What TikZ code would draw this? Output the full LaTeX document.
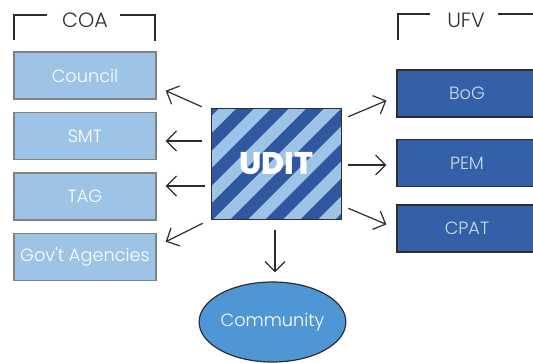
\documentclass[tikz,border=0pt]{standalone}
\usepackage{fontspec}
\setmainfont{Poppins}
\newfontfamily\labelfont{Poppins Light}
\newfontfamily\heavyfont{Poppins ExtraBold}
\usetikzlibrary{arrows.meta,shapes.geometric}

\definecolor{paleblue}{RGB}{157,195,230}
\definecolor{deepblue}{RGB}{52,96,168}
\definecolor{stripeblue}{RGB}{47,88,160}
\definecolor{midblue}{RGB}{78,150,212}
\definecolor{boxline}{RGB}{130,130,130}
\definecolor{inkline}{RGB}{45,45,45}
\definecolor{paletext}{RGB}{205,222,242}

% one drawing unit is 0.75pt; sizes below are given in pt
\tikzset{
  coabox/.style={draw=boxline, line width=1.1pt, fill=paleblue,
    minimum width=106.5pt, minimum height=35.25pt, inner sep=0pt,
    text=white, font=\labelfont\fontsize{13.3}{15}\selectfont},
  ufvbox/.style={draw=inkline, line width=0.9pt, fill=deepblue,
    minimum width=105pt, minimum height=35.25pt, inner sep=0pt,
    text=paletext, font=\labelfont\fontsize{13.3}{15}\selectfont},
  grouplabel/.style={text=inkline, font=\labelfont\fontsize{15.5}{17}\selectfont, inner sep=0pt},
  bracket/.style={draw=inkline, line width=1pt},
  arr/.style={draw=inkline, line width=0.9pt,
    -{Straight Barb[length=7.5pt,width=15pt,line width=0.9pt]}},
}

\begin{document}
\begin{tikzpicture}[x={(0.75pt,0)}, y={(0,-0.75pt)}]
  \useasboundingbox (0,0) rectangle (533,363);

  % left group
  \node[coabox] (council) at (85,75.5)  {Council};
  \node[coabox] (smt)     at (85,136)   {SMT};
  \node[coabox] (tag)     at (85,196.5) {TAG};
  \node[coabox] (gov)     at (85,257)   {Gov't Agencies};

  % right group
  \node[ufvbox] (bog)  at (467,93.5)  {BoG};
  \node[ufvbox] (pem)  at (467,163)   {PEM};
  \node[ufvbox] (cpat) at (467,228.5) {CPAT};

  % group headings with brackets
  \node[grouplabel] (coa) at (85,20) {COA};
  \draw[bracket] (14,40) -- (14,15) -- (47,15);
  \draw[bracket] (120,15) -- (155,15) -- (155,41);
  \node[grouplabel] (ufv) at (466,20) {UFV};
  \draw[bracket] (398,40) -- (398,14) -- (430,14);
  \draw[bracket] (498,14) -- (540,14);

  % central striped box
  \node[minimum width=96.75pt, minimum height=82.5pt, inner sep=0pt] (udit) at (276.5,164) {};
  \fill[paleblue] (udit.north west) rectangle (udit.south east);
  \begin{scope}
    \clip (udit.north west) rectangle (udit.south east);
    \foreach \c in {310,345,...,590}
      \fill[stripeblue] (\c-100,100) -- (\c+17.5-100,100) -- (\c+17.5-230,230) -- (\c-230,230) -- cycle;
  \end{scope}
  \draw[inkline, line width=1pt] (udit.north west) rectangle (udit.south east);
  \node[text=white, font=\heavyfont\fontsize{23.5}{25}\selectfont, inner sep=0pt] (uditlabel) at (udit.center) {UDIT};

  % community
  \node[ellipse, draw=inkline, line width=0.9pt, fill=midblue,
        minimum width=108.75pt, minimum height=60pt, inner sep=0pt,
        text=white, font=\labelfont\fontsize{13.3}{15}\selectfont] (community) at (272.5,322) {Community};

  % connectors
  \draw[arr] ([shift={(-10,-2)}]udit.north west) -- ([shift={(9,-9)}]council.south east);
  \draw[arr] ([shift={(-10,-23)}]udit.west) -- ([shift={(9,5)}]smt.east);
  \draw[arr] ([shift={(-7,22)}]udit.west) -- ([shift={(9,-10.5)}]tag.east);
  \draw[arr] ([shift={(-9,4)}]udit.south west) -- ([shift={(9,9)}]gov.north east);
  \draw[arr] ([shift={(7,8)}]udit.north east) -- ([shift={(-10,-17)}]bog.south west);
  \draw[arr] ([shift={(7,1)}]udit.east) -- ([shift={(-10,2)}]pem.west);
  \draw[arr] ([shift={(7,-11)}]udit.south east) -- ([shift={(-10,20)}]cpat.north west);
  \draw[arr] ([shift={(-1.5,11)}]udit.south) -- ([shift={(2.5,-9)}]community.north);
\end{tikzpicture}
\end{document}
